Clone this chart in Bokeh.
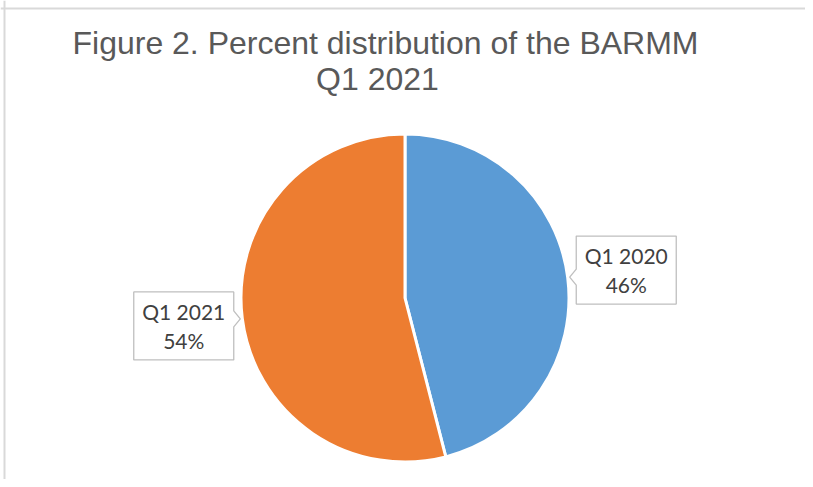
import numpy as np
from bokeh.plotting import figure
from bokeh.models import Range1d, Label, Span, ColumnDataSource
from bokeh.core.properties import value
from bokeh.embed import file_html
from bokeh.resources import INLINE

# ---- data ----
categories = ["Q1 2020", "Q1 2021"]
shares = [46, 54]
colors = ["#5B9BD5", "#ED7D31"]
title_lines = ["Figure 2. Percent distribution of the BARMM", "Q1 2021"]

# ---- layout ----
W, H = 805, 479
p = figure(width=W, height=H, output_backend="svg", toolbar_location=None,
           x_range=Range1d(0, W), y_range=Range1d(0, H), min_border=0,
           background_fill_color="white", border_fill_color="white",
           outline_line_color=None)
p.axis.visible = False
p.grid.visible = False

cx, cy, R = 404.5, 181.5, 164
frac = np.array(shares, dtype=float) / sum(shares)
cum = np.concatenate([[0.0], np.cumsum(frac)])
start = np.pi / 2 - cum[:-1] * 2 * np.pi
end = np.pi / 2 - cum[1:] * 2 * np.pi
mid = (start + end) / 2

src = ColumnDataSource(dict(start=start, end=end, color=colors))
p.wedge(x=cx, y=cy, radius=R, start_angle="start", end_angle="end",
        direction="clock", fill_color="color", line_color="white",
        line_width=3, source=src)

# ---- callouts ----
label_r = 223
hw, hh = 50, 34
xs, ys, tx, ty_, texts = [], [], [], [], []
for c, s, a in zip(categories, shares, mid):
    bx = cx + label_r * np.cos(a)
    by = cy + label_r * np.sin(a)
    tipx = cx + (R + 2) * np.cos(a)
    tipy = cy + (R + 2) * np.sin(a)
    L, Rr, T, B = bx - hw, bx + hw, by + hh, by - hh
    n1 = max(B + 4, tipy - 8)
    n2 = min(T - 4, tipy + 8)
    if np.cos(a) > 0:
        px = [L, Rr, Rr, L, L, tipx, L]
        py = [T, T, B, B, n1, tipy, n2]
    else:
        px = [L, Rr, Rr, tipx, Rr, Rr, L]
        py = [T, T, n2, tipy, n1, B, B]
    xs.append(px)
    ys.append(py)
    tx.append(bx)
    ty_.append(by)
    texts.append(f"{c}\n{s}%")

p.patches(xs=xs, ys=ys, fill_color="white", line_color="#BFBFBF", line_width=1.3)
p.text(x=tx, y=ty_, text=texts, text_align="center", text_baseline="middle",
       text_font=value("Lato"), text_font_size="21px", text_color="#404040",
       text_line_height=1.15)

# ---- title ----
p.add_layout(Label(x=385, y=437, text=title_lines[0], text_align="center",
                   text_baseline="alphabetic", text_font="Liberation Sans",
                   text_font_size="32px", text_color="#595959"))
p.add_layout(Label(x=377, y=401, text=title_lines[1], text_align="center",
                   text_baseline="alphabetic", text_font="Liberation Sans",
                   text_font_size="32px", text_color="#595959"))

# ---- chart border (top & left) ----
p.add_layout(Span(location=H - 8, dimension="width", line_color="#D9D9D9", line_width=2))
p.add_layout(Span(location=4, dimension="height", line_color="#D9D9D9", line_width=2))

open("out.html", "w").write(file_html(p, INLINE))
